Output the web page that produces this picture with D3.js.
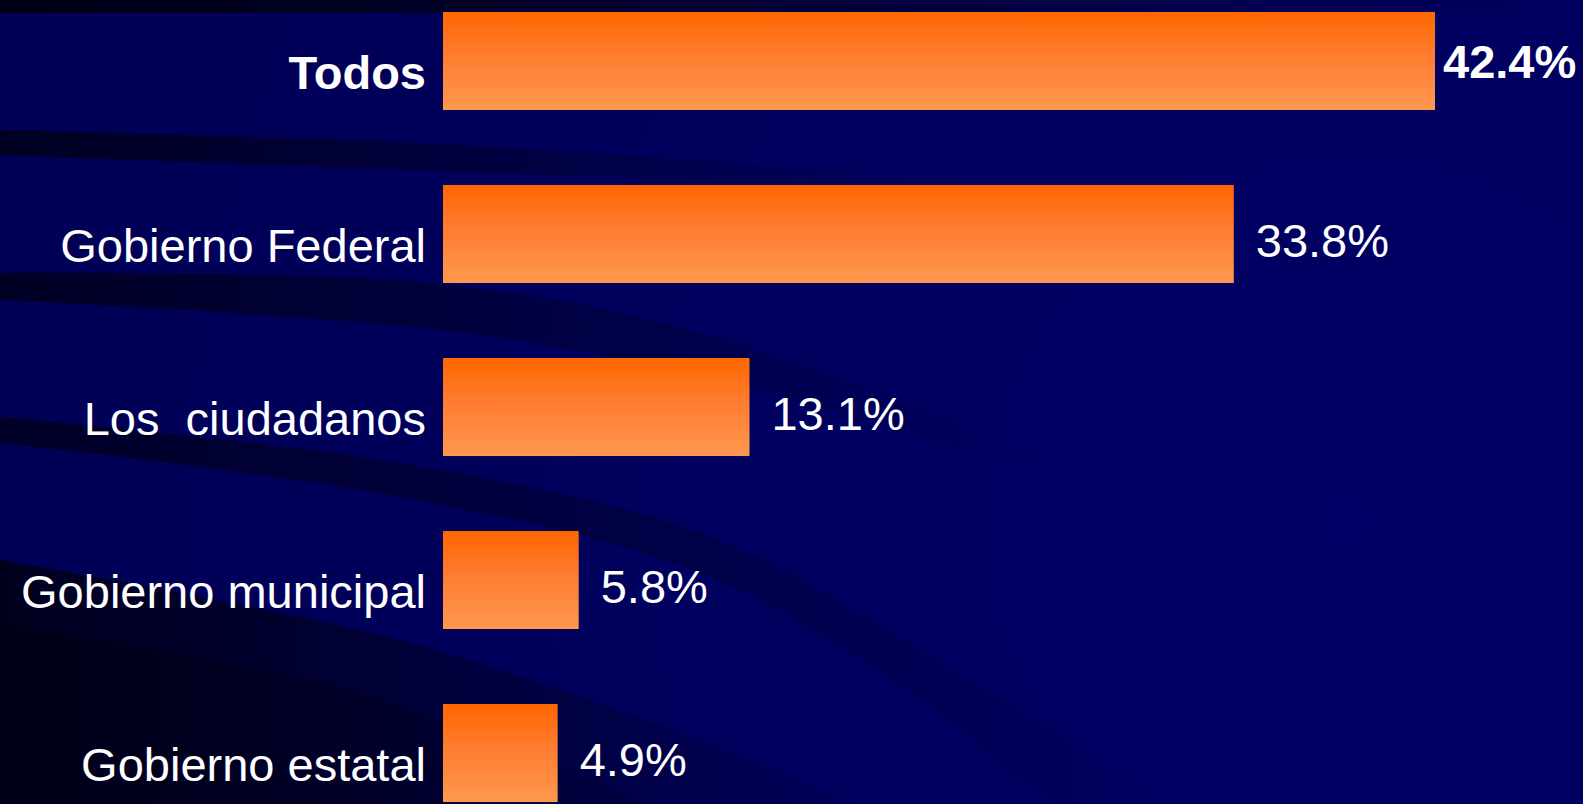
<!DOCTYPE html>
<html>
<head>
<meta http-equiv="Content-Type" content="text/html; charset=UTF-8">
<title>Bar Chart</title>
<script src="https://cdn.jsdelivr.net/npm/d3@7"></script>
<style>
  html, body { margin: 0; padding: 0; background: #00005c; overflow: hidden; }
  text { font-family: "Liberation Sans", Arial, sans-serif; fill: #ffffff; }
</style>
</head>
<body>
<svg class="chart" width="1583" height="804"></svg>
<script>
var categories = ["Todos", "Gobierno Federal", "Los  ciudadanos", "Gobierno municipal", "Gobierno estatal"];
var values = [42.4, 33.8, 13.1, 5.8, 4.9];
var valueLabels = ["42.4%", "33.8%", "13.1%", "5.8%", "4.9%"];
var boldRows = ["Todos"];

var width = 1583;
var height = 804;

var svg = d3.select(".chart")
  .attr("width", width)
  .attr("height", height);

var defs = svg.append("defs");

// background: navy, a bit lighter to the right
var bg = defs.append("radialGradient")
  .attr("id", "bg")
  .attr("gradientUnits", "userSpaceOnUse")
  .attr("cx", 1350).attr("cy", 520).attr("r", 1300);
bg.append("stop").attr("offset", "0%").attr("stop-color", "#000066");
bg.append("stop").attr("offset", "100%").attr("stop-color", "#000056");

svg.append("rect")
  .attr("width", width)
  .attr("height", height)
  .attr("fill", "url(#bg)");

// dark swooshes, fading out to the right
function fade(id, x1, x2, op) {
  var g = defs.append("linearGradient")
    .attr("id", id)
    .attr("gradientUnits", "userSpaceOnUse")
    .attr("x1", x1).attr("x2", x2).attr("y1", 0).attr("y2", 0);
  g.append("stop").attr("offset", "0%").attr("stop-color", "#000014").attr("stop-opacity", op);
  g.append("stop").attr("offset", "55%").attr("stop-color", "#000014").attr("stop-opacity", op * 0.45);
  g.append("stop").attr("offset", "100%").attr("stop-color", "#000014").attr("stop-opacity", 0);
}
fade("f0", 0, 1583, 1);
fade("f1", 0, 950, 0.8);
fade("f2", 0, 1050, 0.75);
fade("f3", 0, 1200, 0.7);
fade("f4", 0, 950, 0.85);
fade("f5", 0, 800, 0.6);

var curve = d3.line().curve(d3.curveCatmullRom);

function band(upper, lower, fill) {
  svg.append("path")
    .attr("d", curve(upper.concat(lower.slice().reverse())) + "Z")
    .attr("fill", fill);
}

svg.append("rect").attr("width", width).attr("height", 13).attr("fill", "url(#f0)");

band([[0, 130], [440, 144], [800, 168], [1000, 184]],
     [[0, 155], [440, 171], [800, 183], [1000, 186]], "url(#f1)");

band([[0, 273], [440, 284], [700, 333], [1050, 462]],
     [[0, 300], [440, 330], [700, 375], [1050, 470]], "url(#f2)");

band([[0, 417], [400, 463], [700, 533], [900, 637], [1150, 804]],
     [[0, 443], [400, 497], [700, 573], [900, 685], [1060, 804]], "url(#f3)");

band([[0, 560], [400, 640], [700, 740], [860, 804]],
     [[0, 804], [860, 804]], "url(#f4)");

band([[0, 625], [350, 690], [650, 804]],
     [[0, 804], [650, 804]], "url(#f5)");

// bar fill
var barGrad = defs.append("linearGradient")
  .attr("id", "barGrad")
  .attr("x1", 0).attr("x2", 0).attr("y1", 0).attr("y2", 1);
barGrad.append("stop").attr("offset", "0%").attr("stop-color", "#ff6600");
barGrad.append("stop").attr("offset", "45%").attr("stop-color", "#ff7c30");
barGrad.append("stop").attr("offset", "100%").attr("stop-color", "#ff9850");

var xChart = d3.scaleLinear()
  .domain([0, d3.max(values)])
  .range([443, 1435]);

var yChart = d3.scaleBand()
  .domain(categories)
  .range([12, 802])
  .paddingInner(75 / 173)
  .paddingOuter(0);

var rows = categories.map(function(c, i) {
  return { cat: c, value: values[i], label: valueLabels[i], bold: boldRows.indexOf(c) >= 0 };
});

var chart = svg.append("g");

chart.selectAll(".bar")
  .data(rows)
  .enter()
  .append("rect")
  .attr("class", "bar")
  .attr("x", xChart(0))
  .attr("y", function(d) { return yChart(d.cat); })
  .attr("width", function(d) { return xChart(d.value) - xChart(0); })
  .attr("height", yChart.bandwidth())
  .attr("fill", "url(#barGrad)");

// category labels
chart.selectAll(".cat")
  .data(rows)
  .enter()
  .append("text")
  .attr("class", "cat")
  .attr("x", 426)
  .attr("y", function(d) { return yChart(d.cat) + yChart.bandwidth() / 2 + 28; })
  .attr("text-anchor", "end")
  .style("white-space", "pre")
  .style("font-size", "47px")
  .style("font-weight", function(d) { return d.bold ? "bold" : "normal"; })
  .text(function(d) { return d.cat; });

// value labels (the bold one sits tight against its bar)
chart.selectAll(".val")
  .data(rows)
  .enter()
  .append("text")
  .attr("class", "val")
  .attr("x", function(d) { return xChart(d.value) + (d.bold ? 8 : 22); })
  .attr("y", function(d) { return yChart(d.cat) + yChart.bandwidth() / 2 + (d.bold ? 17 : 23); })
  .style("font-size", "47px")
  .style("font-weight", function(d) { return d.bold ? "bold" : "normal"; })
  .text(function(d) { return d.label; });
</script>
</body>
</html>
